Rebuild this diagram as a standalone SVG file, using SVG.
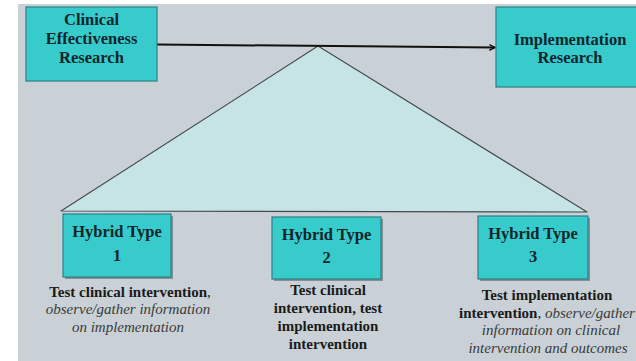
<svg xmlns="http://www.w3.org/2000/svg" width="636" height="361" viewBox="0 0 636 361">
  <style>
    .box { fill: #38cbcb; stroke: #2a7f85; stroke-width: 1.2; }
    .shadow { fill: #4d5a60; opacity: 0.55; }
    text { font-family: 'Liberation Serif', 'DejaVu Serif', serif; }
    .head { font-weight: bold; font-size: 16.5px; fill: #10262c; text-anchor: middle; }
    .desc { font-size: 15px; fill: #1a1a1a; text-anchor: middle; }
    .b { font-weight: bold; }
    .i { font-style: italic; fill: #3a3a3a; }
  </style>
  <defs>
    <marker id="arrow" viewBox="0 0 10 10" refX="9" refY="5" markerWidth="7" markerHeight="7" markerUnits="userSpaceOnUse" orient="auto">
      <path d="M1,1 L9,5 L1,9" fill="none" stroke="#111" stroke-width="2"/>
    </marker>
  </defs>

  <!-- page and panel -->
  <rect x="0" y="0" width="636" height="361" fill="#ffffff"/>
  <rect x="18" y="4" width="618" height="357" fill="#c9d1d6"/>

  <!-- spectrum triangle -->
  <g id="spectrum">
    <polygon points="318,46 61,211 587,212" fill="#c6e3e6" stroke="#454a4e" stroke-width="1.1" stroke-linejoin="round"/>
  </g>

  <!-- connectors -->
  <g id="connectors">
    <line x1="157" y1="44.5" x2="495" y2="47.5" stroke="#111" stroke-width="2" marker-end="url(#arrow)"/>
  </g>

  <g id="clinical-effectiveness">
    <rect class="box" x="26" y="7" width="131" height="74"/>
    <text class="head" x="91.5" y="25">Clinical</text>
    <text class="head" x="91.5" y="44">Effectiveness</text>
    <text class="head" x="91.5" y="62.5">Research</text>
  </g>

  <g id="implementation">
    <rect class="box" x="496" y="7" width="148" height="80"/>
    <text class="head" x="570" y="45">Implementation</text>
    <text class="head" x="570" y="63">Research</text>
  </g>

  <g id="hybrid-1">
    <rect class="shadow" x="65" y="216" width="108" height="63"/>
    <rect class="box" x="63" y="214" width="108" height="63"/>
    <text class="head" x="117" y="237">Hybrid Type</text>
    <text class="head" x="117" y="261">1</text>
    <text class="desc" x="130" y="297"><tspan class="b">Test clinical intervention</tspan>,</text>
    <text class="desc i" x="128" y="314">observe/gather information</text>
    <text class="desc i" x="128" y="332">on implementation</text>
  </g>

  <g id="hybrid-2">
    <rect class="shadow" x="274" y="219" width="109" height="62"/>
    <rect class="box" x="272" y="217" width="109" height="62"/>
    <text class="head" x="326.5" y="240">Hybrid Type</text>
    <text class="head" x="326.5" y="263">2</text>
    <text class="desc b" x="328" y="295">Test clinical</text>
    <text class="desc b" x="328" y="313">intervention, test</text>
    <text class="desc b" x="328" y="331">implementation</text>
    <text class="desc b" x="328" y="349">intervention</text>
  </g>

  <g id="hybrid-3">
    <rect class="shadow" x="480" y="218" width="110" height="63"/>
    <rect class="box" x="478" y="216" width="110" height="63"/>
    <text class="head" x="533" y="238.5">Hybrid Type</text>
    <text class="head" x="533" y="262">3</text>
    <text class="desc b" x="547" y="300">Test implementation</text>
    <text class="desc" x="547" y="317.5"><tspan class="b">intervention</tspan>, <tspan class="i">observe/gather</tspan></text>
    <text class="desc i" x="551" y="335">information on clinical</text>
    <text class="desc i" x="548" y="353">intervention and outcomes</text>
  </g>
</svg>
